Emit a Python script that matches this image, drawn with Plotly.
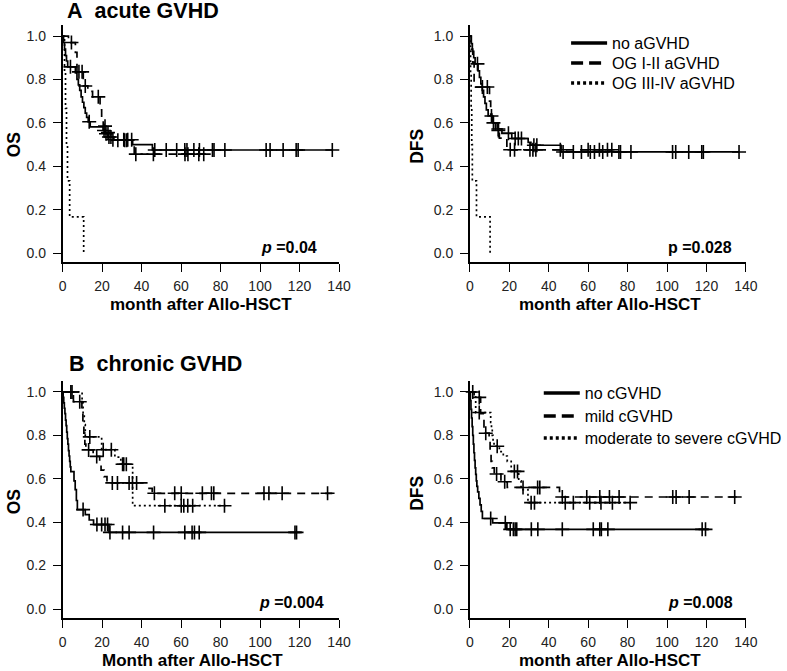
import numpy as np
import plotly.graph_objects as go

W, H = 787, 671

# ---------------- Panel A: acute GVHD, OS ----------------
a_os_no_t = [0, 0.5, 1.0, 1.5, 2.0, 2.6, 6.5, 7.3, 8.0, 8.7, 9.4, 10.1, 10.8, 11.5, 12.2, 13.0, 14.0, 20.5, 21.5, 23.0, 26.0, 35.5, 45.5]
a_os_no_s = [1, 0.97, 0.94, 0.91, 0.885, 0.858, 0.83, 0.80, 0.775, 0.75, 0.72, 0.695, 0.67, 0.645, 0.625, 0.605, 0.582, 0.565, 0.55, 0.535, 0.52, 0.50, 0.475]
a_os_no_c = [4.0, 13.5, 21.0, 22.0, 23.5, 24.5, 28.0, 31.5, 32.5, 46.7, 52.5, 57.8, 61.9, 63.0, 66.5, 69.3, 75.9, 76.7, 82.2, 103.1, 105.1, 111.7, 118.3, 119.3, 136.6]
a_os_no_end = 136.6

a_os_mild_t = [0, 3.0, 6.5, 7.3, 10.5, 12.8, 15.2, 19.0, 19.8, 20.6, 22.0, 24.5, 36.3]
a_os_mild_s = [1, 0.97, 0.925, 0.835, 0.77, 0.745, 0.72, 0.66, 0.62, 0.585, 0.555, 0.522, 0.456]
a_os_mild_c = [4.5, 8.3, 9.9, 11.5, 18.1, 21.5, 23.0, 25.5, 31.0, 33.0, 35.0, 37.1, 46.0, 62.0, 63.5, 69.0, 71.5]
a_os_mild_end = 71.8

a_os_sev_t = [0, 1.0, 1.5, 2.0, 2.5, 3.6, 10.7]
a_os_sev_s = [1, 0.833, 0.667, 0.5, 0.333, 0.167, 0.0]
a_os_sev_c = []
a_os_sev_end = 10.7

# ---------------- Panel A: acute GVHD, DFS ----------------
a_dfs_no_t = [0, 0.7, 1.3, 2.0, 2.7, 4.2, 4.9, 5.6, 6.3, 7.0, 7.7, 8.4, 9.3, 11.6, 13.9, 16.3, 21.3, 29.6, 31.0, 46.3]
a_dfs_no_s = [1, 0.965, 0.93, 0.90, 0.872, 0.84, 0.81, 0.78, 0.75, 0.72, 0.69, 0.66, 0.632, 0.60, 0.572, 0.552, 0.528, 0.51, 0.497, 0.466]
a_dfs_no_c = [3.9, 11.0, 14.5, 19.6, 23.0, 24.6, 26.2, 32.5, 34.0, 47.3, 52.5, 56.6, 61.1, 63.2, 67.4, 75.6, 76.4, 81.7, 102.8, 104.4, 111.0, 117.6, 118.4, 136.5]
a_dfs_no_end = 136.5

a_dfs_mild_t = [0, 0.8, 1.5, 2.2, 10.0, 10.6, 11.2, 13.0, 15.0, 18.8]
a_dfs_mild_s = [1, 0.94, 0.88, 0.765, 0.70, 0.64, 0.60, 0.565, 0.53, 0.476]
a_dfs_mild_c = [6.4, 8.9, 12.0, 14.5, 20.5, 22.7, 30.5, 32.0, 33.5, 45.9, 60.0, 65.7, 69.8, 72.0]
a_dfs_mild_end = 72.0

a_dfs_sev_t = [0, 0.4, 0.7, 1.0, 1.3, 3.4, 10.3]
a_dfs_sev_s = [1, 0.833, 0.667, 0.5, 0.333, 0.167, 0.0]
a_dfs_sev_c = []
a_dfs_sev_end = 10.3

# ---------------- Panel B: chronic GVHD, OS ----------------
b_os_no_t = [0, 0.3, 0.6, 0.9, 1.2, 1.5, 1.8, 2.1, 2.4, 2.7, 3.0, 3.3, 3.6, 3.9, 4.2, 5.8, 6.4, 7.0, 7.5, 11.5, 13.5, 15.7, 23.5]
b_os_no_s = [1, 0.975, 0.95, 0.925, 0.90, 0.87, 0.845, 0.815, 0.785, 0.76, 0.73, 0.705, 0.68, 0.655, 0.633, 0.59, 0.55, 0.50, 0.458, 0.435, 0.41, 0.389, 0.353]
b_os_no_c = [10.4, 17.4, 19.8, 21.5, 22.8, 24.0, 30.4, 33.7, 46.1, 61.9, 65.6, 66.8, 69.2, 117.7, 118.5]
b_os_no_end = 120.5

b_os_mild_t = [0, 5.5, 9.8, 10.3, 10.8, 11.3, 11.8, 15.5, 18.8, 19.5, 21.0, 22.5, 43.8, 45.4]
b_os_mild_s = [1, 0.955, 0.91, 0.86, 0.81, 0.76, 0.733, 0.703, 0.67, 0.64, 0.61, 0.581, 0.556, 0.533]
b_os_mild_c = [4.2, 8.7, 13.2, 17.3, 25.2, 27.8, 33.7, 35.4, 37.5, 46.5, 56.8, 60.1, 70.8, 75.4, 76.6, 102.0, 104.5, 111.2, 134.2]
b_os_mild_end = 136.6

b_os_sev_t = [0, 9.9, 10.4, 11.0, 11.5, 19.8, 26.5, 29.5, 35.5]
b_os_sev_s = [1, 0.95, 0.90, 0.85, 0.793, 0.734, 0.70, 0.667, 0.476]
b_os_sev_c = [4.8, 13.8, 20.6, 24.7, 30.4, 31.0, 32.3, 51.8, 60.1, 61.4, 63.4, 65.9, 82.0]
b_os_sev_end = 83.0

# ---------------- Panel B: chronic GVHD, DFS ----------------
b_dfs_no_t = [0, 0.3, 0.6, 0.9, 1.2, 1.5, 1.8, 2.1, 2.4, 2.7, 3.0, 3.3, 3.6, 4.0, 4.6, 5.2, 5.8, 6.4, 11.6, 18.8]
b_dfs_no_s = [1, 0.96, 0.92, 0.88, 0.84, 0.80, 0.76, 0.72, 0.685, 0.65, 0.62, 0.59, 0.565, 0.54, 0.51, 0.48, 0.45, 0.417, 0.397, 0.367]
b_dfs_no_c = [10.6, 18.0, 20.5, 22.1, 23.0, 23.8, 31.2, 34.5, 46.9, 62.6, 65.9, 66.7, 70.0, 117.8, 119.5]
b_dfs_no_end = 121.0

b_dfs_mild_t = [0, 2.2, 5.5, 7.2, 9.8, 10.3, 10.8, 11.4, 12.4, 15.8, 19.0, 45.5]
b_dfs_mild_s = [1, 0.975, 0.90, 0.81, 0.78, 0.73, 0.68, 0.65, 0.622, 0.586, 0.56, 0.516]
b_dfs_mild_c = [4.8, 8.1, 13.6, 17.7, 27.0, 34.4, 35.5, 46.9, 59.3, 65.9, 70.8, 75.7, 102.9, 104.6, 111.2, 134.3]
b_dfs_mild_end = 136.8

b_dfs_sev_t = [0, 3.0, 10.6, 11.0, 11.4, 11.8, 12.3, 15.0, 17.0, 19.0, 21.0, 24.8, 26.0, 29.5]
b_dfs_sev_s = [1, 0.905, 0.86, 0.83, 0.80, 0.775, 0.75, 0.725, 0.705, 0.68, 0.634, 0.59, 0.55, 0.49]
b_dfs_sev_c = [1.5, 4.8, 13.9, 22.6, 24.2, 31.1, 32.8, 48.4, 52.5, 60.8, 66.5, 72.3, 81.3]
b_dfs_sev_end = 83.0

x_ticks = [0, 20, 40, 60, 80, 100, 120, 140]
y_ticks = [0.0, 0.2, 0.4, 0.6, 0.8, 1.0]

legend_a = ["no aGVHD", "OG I-II aGVHD", "OG III-IV aGVHD"]
legend_b = ["no cGVHD", "mild cGVHD", "moderate to severe cGVHD"]
p_values = ["<b><i>p</i> =0.04</b>", "<b>p =0.028</b>", "<b><i>p</i> =0.004</b>", "<b><i>p</i> =0.008</b>"]

DASHES = ["solid", "8px,6px", "2px,3px"]
LEG_DASHES = ["solid", "12px,6px", "3px,3px"]
FONT = "Liberation Sans, Arial, sans-serif"

fig = go.Figure()


def km(t, s, cens, end, dash, ax):
    xa, ya = ax
    x = list(t) + [end]
    y = list(s) + [s[-1]]
    fig.add_trace(go.Scatter(x=x, y=y, mode="lines", line=dict(shape="hv", color="black", width=1.7, dash=dash),
                             xaxis=xa, yaxis=ya, showlegend=False, cliponaxis=False, hoverinfo="skip"))
    if len(cens):
        idx = np.searchsorted(np.array(t), np.array(cens), side="right") - 1
        cy = np.array(s)[idx]
        fig.add_trace(go.Scatter(x=cens, y=cy, mode="markers",
                                 marker=dict(symbol="cross-thin", size=10, color="black",
                                             line=dict(color="black", width=1.6)),
                                 xaxis=xa, yaxis=ya, showlegend=False, cliponaxis=False, hoverinfo="skip"))


panels = [
    (("x", "y"), [(a_os_no_t, a_os_no_s, a_os_no_c, a_os_no_end),
                  (a_os_mild_t, a_os_mild_s, a_os_mild_c, a_os_mild_end),
                  (a_os_sev_t, a_os_sev_s, a_os_sev_c, a_os_sev_end)]),
    (("x2", "y2"), [(a_dfs_no_t, a_dfs_no_s, a_dfs_no_c, a_dfs_no_end),
                    (a_dfs_mild_t, a_dfs_mild_s, a_dfs_mild_c, a_dfs_mild_end),
                    (a_dfs_sev_t, a_dfs_sev_s, a_dfs_sev_c, a_dfs_sev_end)]),
    (("x3", "y3"), [(b_os_no_t, b_os_no_s, b_os_no_c, b_os_no_end),
                    (b_os_mild_t, b_os_mild_s, b_os_mild_c, b_os_mild_end),
                    (b_os_sev_t, b_os_sev_s, b_os_sev_c, b_os_sev_end)]),
    (("x4", "y4"), [(b_dfs_no_t, b_dfs_no_s, b_dfs_no_c, b_dfs_no_end),
                    (b_dfs_mild_t, b_dfs_mild_s, b_dfs_mild_c, b_dfs_mild_end),
                    (b_dfs_sev_t, b_dfs_sev_s, b_dfs_sev_c, b_dfs_sev_end)]),
]

for ax, curves in panels:
    for (t, s, c, e), d in zip(curves, DASHES):
        km(t, s, c, e, d, ax)


def px(v):
    return v / W


def py(v):
    return 1 - v / H


# legend entries: each one in its own legend box so rows sit where the reference has them
legend_layout = {}
leg_specs = [(legend_a, "x2", "y2", 576, [43, 63, 83]),
             (legend_b, "x4", "y4", 548, [393, 416, 438])]
k = 0
for names, xa, ya, lx, rows in leg_specs:
    for name, d, ry in zip(names, LEG_DASHES, rows):
        k += 1
        lname = "legend" if k == 1 else f"legend{k}"
        fig.add_trace(go.Scatter(x=[None], y=[None], mode="lines", name=name, xaxis=xa, yaxis=ya,
                                 line=dict(color="black", width=3.5, dash=d), legend=lname, hoverinfo="skip"))
        legend_layout[lname] = dict(x=px(lx), y=py(ry), xanchor="left", yanchor="middle",
                                    bgcolor="rgba(0,0,0,0)", itemwidth=36,
                                    font=dict(size=16, family=FONT, color="black"), borderwidth=0)

xdom_l = [px(60), px(343.3)]
xdom_r = [px(477.3), px(760.3)]
ydom_t = [py(262), py(25.2)]
ydom_b = [py(617.9), py(381.1)]

xcommon = dict(range=[0, 140], tickvals=x_ticks, ticks="outside", ticklen=8, tickwidth=1.3, tickcolor="black",
               showline=True, linecolor="black", linewidth=1.6, showgrid=False, zeroline=False,
               tickfont=dict(size=14, color="#222", family=FONT), ticklabelstandoff=2, fixedrange=True)
ycommon = dict(range=[-0.041, 1.05], tickvals=y_ticks, tickformat=".1f", ticks="outside", ticklen=8, tickwidth=1.3,
               tickcolor="black", showline=True, linecolor="black", linewidth=1.6, showgrid=False, zeroline=False,
               tickfont=dict(size=14, color="#222", family=FONT), ticklabelstandoff=4, fixedrange=True)

fig.update_layout(
    width=W, height=H, margin=dict(l=0, r=0, t=0, b=0),
    paper_bgcolor="white", plot_bgcolor="white",
    font=dict(family=FONT, color="black"),
    xaxis=dict(domain=xdom_l, anchor="y", **xcommon),
    yaxis=dict(domain=ydom_t, anchor="x", **ycommon),
    xaxis2=dict(domain=xdom_r, anchor="y2", **xcommon),
    yaxis2=dict(domain=ydom_t, anchor="x2", **ycommon),
    xaxis3=dict(domain=xdom_l, anchor="y3", **xcommon),
    yaxis3=dict(domain=ydom_b, anchor="x3", **ycommon),
    xaxis4=dict(domain=xdom_r, anchor="y4", **xcommon),
    yaxis4=dict(domain=ydom_b, anchor="x4", **ycommon),
    showlegend=True,
    hovermode=False,
    **legend_layout,
)

ann = []


def text(x, y, s, size, angle=0, xanchor="center", yanchor="middle"):
    ann.append(dict(x=px(x), y=py(y), xref="paper", yref="paper", text=s, showarrow=False, textangle=angle,
                    xanchor=xanchor, yanchor=yanchor, borderpad=0,
                    font=dict(size=size, family=FONT, color="black")))


text(64, 11, "<b>A\u00a0\u00a0acute GVHD</b>", 21.5, xanchor="left")
text(66, 363.5, "<b>B\u00a0\u00a0chronic GVHD</b>", 21.5, xanchor="left")
text(10, 144.5, "<b>OS</b>", 17.5, angle=-90)
text(423, 146, "<b>DFS</b>", 17.5, angle=-90)
text(10, 501.5, "<b>OS</b>", 17.5, angle=-90)
text(423, 493, "<b>DFS</b>", 17.5, angle=-90)
text(201.5, 304, "<b>month after Allo-HSCT</b>", 17)
text(620.5, 304, "<b>month after Allo-HSCT</b>", 17)
text(193.5, 671, "<b>Month after Allo-HSCT</b>", 17, yanchor="bottom")
text(621, 671, "<b>month after Allo-HSCT</b>", 17, yanchor="bottom")

# p-values in data coordinates
for (xa, ya), p, xr in zip([("x", "y"), ("x2", "y2"), ("x3", "y3"), ("x4", "y4")], p_values, [130, 134, 133.4, 134.4]):
    ann.append(dict(x=xr, y=0.028, xref=xa, yref=ya, text=p, showarrow=False, xanchor="right", yanchor="middle",
                    font=dict(size=16, family=FONT, color="black")))

fig.update_layout(annotations=ann)
fig.write_html("out.html", config={"displayModeBar": False},
               post_script="document.body.style.margin='0px';document.body.style.overflow='hidden';")
